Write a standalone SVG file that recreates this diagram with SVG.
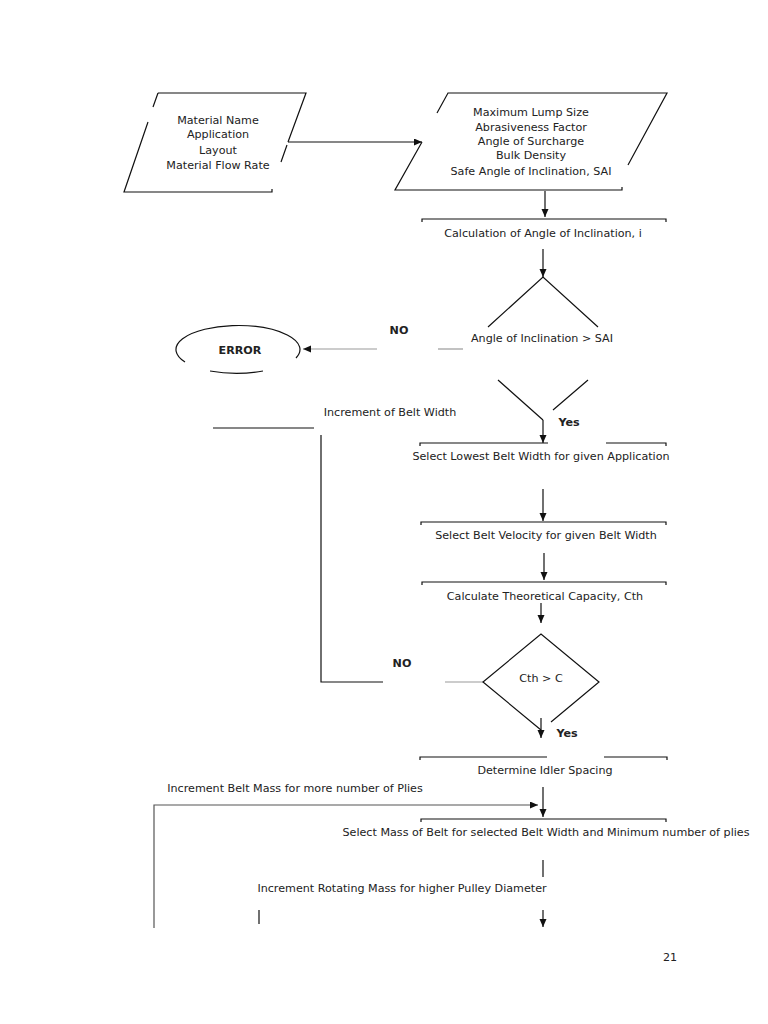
<svg xmlns="http://www.w3.org/2000/svg" width="768" height="1024" viewBox="0 0 768 1024">
<style>
.t{font-family:"DejaVu Sans",Verdana,sans-serif;font-size:11.15px;fill:#222;text-anchor:middle}
.b{font-weight:bold}
.l{stroke:#111;stroke-width:1.2;fill:none}
.g{stroke:#999;stroke-width:1.2;fill:none}
.a{marker-end:url(#arr)}
</style>
<defs>
<marker id="arr" markerUnits="userSpaceOnUse" markerWidth="8" markerHeight="8" refX="8" refY="3.5" orient="auto">
<path d="M0,0 L8,3.5 L0,7 z" fill="#111"/>
</marker>
</defs>
<rect width="768" height="1024" fill="#fff"/>

<g id="connectors">
<path class="l a" d="M288,142 H422"/>
<path class="l a" d="M545,191 V217"/>
<path class="l a" d="M543,249 V277"/>
<path class="g" d="M463,349 H438"/>
<path class="g a" d="M377,349 H303"/>
<path class="l a" d="M543,420 V443"/>
<path class="l a" d="M543,489 V521"/>
<path class="l a" d="M544,553 V580"/>
<path class="l a" d="M541,603 V623"/>
<path class="l a" d="M541,718 V738"/>
<path class="l" d="M213,428 H314"/>
<path class="l" d="M321,435 V682 H383"/>
<path class="g" d="M445,682 H483"/>
<path class="l a" d="M543,787 V817"/>
<path class="g a" d="M154,928 V805 H538" style="stroke:#555"/>
<path class="l" d="M543,860 V877"/>
<path class="l" d="M259,910 V924"/>
<path class="l a" d="M543,910 V927"/>
</g>

<g id="input1">
<path class="l" d="M158,93 H306 L288,142 M287,145 L281,162 M272,189 L272,192 H124 L148,122 M153,107 L158,93"/>
<text class="t" x="218" y="124">Material Name</text>
<text class="t" x="218" y="138">Application</text>
<text class="t" x="218" y="154">Layout</text>
<text class="t" x="218" y="169">Material Flow Rate</text>
</g>

<g id="input2">
<path class="l" d="M437,113 L448,93 H667 L628,165 M622,187 L622,190 H395 L422,142"/>
<text class="t" x="531" y="116">Maximum Lump Size</text>
<text class="t" x="531" y="131">Abrasiveness Factor</text>
<text class="t" x="531" y="145">Angle of Surcharge</text>
<text class="t" x="531" y="159">Bulk Density</text>
<text class="t" x="531" y="175">Safe Angle of Inclination, SAI</text>
</g>

<g id="calc-angle">
<path class="l" d="M422,222 V219 H666 V222"/>
<text class="t" x="543" y="237">Calculation of Angle of Inclination, i</text>
</g>

<g id="decision-angle">
<path class="l" d="M488,327 L543,277 L598,327 M498,380 L543,420 M588,380 L553,410"/>
<text class="t" x="542" y="342">Angle of Inclination &gt; SAI</text>
</g>

<g id="error">
<path class="l" d="M185,362 A62,24 0 1 1 296,358 M210,371 A62,24 0 0 0 263,371"/>
<text class="t b" x="240" y="354">ERROR</text>
</g>

<g id="labels">
<text class="t b" x="399" y="334">NO</text>
<text class="t b" x="569" y="426">Yes</text>
<text class="t" x="390" y="416">Increment of Belt Width</text>
<text class="t b" x="402" y="667">NO</text>
<text class="t b" x="567" y="737">Yes</text>
<text class="t" x="295" y="792">Increment Belt Mass for more number of Plies</text>
<text class="t" x="402" y="892">Increment Rotating Mass for higher Pulley Diameter</text>
</g>

<g id="select-width">
<path class="l" d="M420,446 V443 H548 M606,443 H666 V446"/>
<text class="t" x="541" y="460">Select Lowest Belt Width for given Application</text>
</g>

<g id="select-velocity">
<path class="l" d="M421,525 V522 H666 V525"/>
<text class="t" x="546" y="539">Select Belt Velocity for given Belt Width</text>
</g>

<g id="calc-capacity">
<path class="l" d="M422,585 V582 H666 V585"/>
<text class="t" x="545" y="600">Calculate Theoretical Capacity, Cth</text>
</g>

<g id="decision-capacity">
<path class="l" d="M551,722 L599,682 L541,634 L483,682 L541,730"/>
<text class="t" x="541" y="682">Cth &gt; C</text>
</g>

<g id="idler-spacing">
<path class="l" d="M420,760 V757 H547 M604,757 H667 V760"/>
<text class="t" x="545" y="774">Determine Idler Spacing</text>
</g>

<g id="select-mass">
<path class="l" d="M421,822 V819 H666 V822"/>
<text class="t" x="546" y="836">Select Mass of Belt for selected Belt Width and Minimum number of plies</text>
</g>

<text class="t" x="670" y="961">21</text>
</svg>
